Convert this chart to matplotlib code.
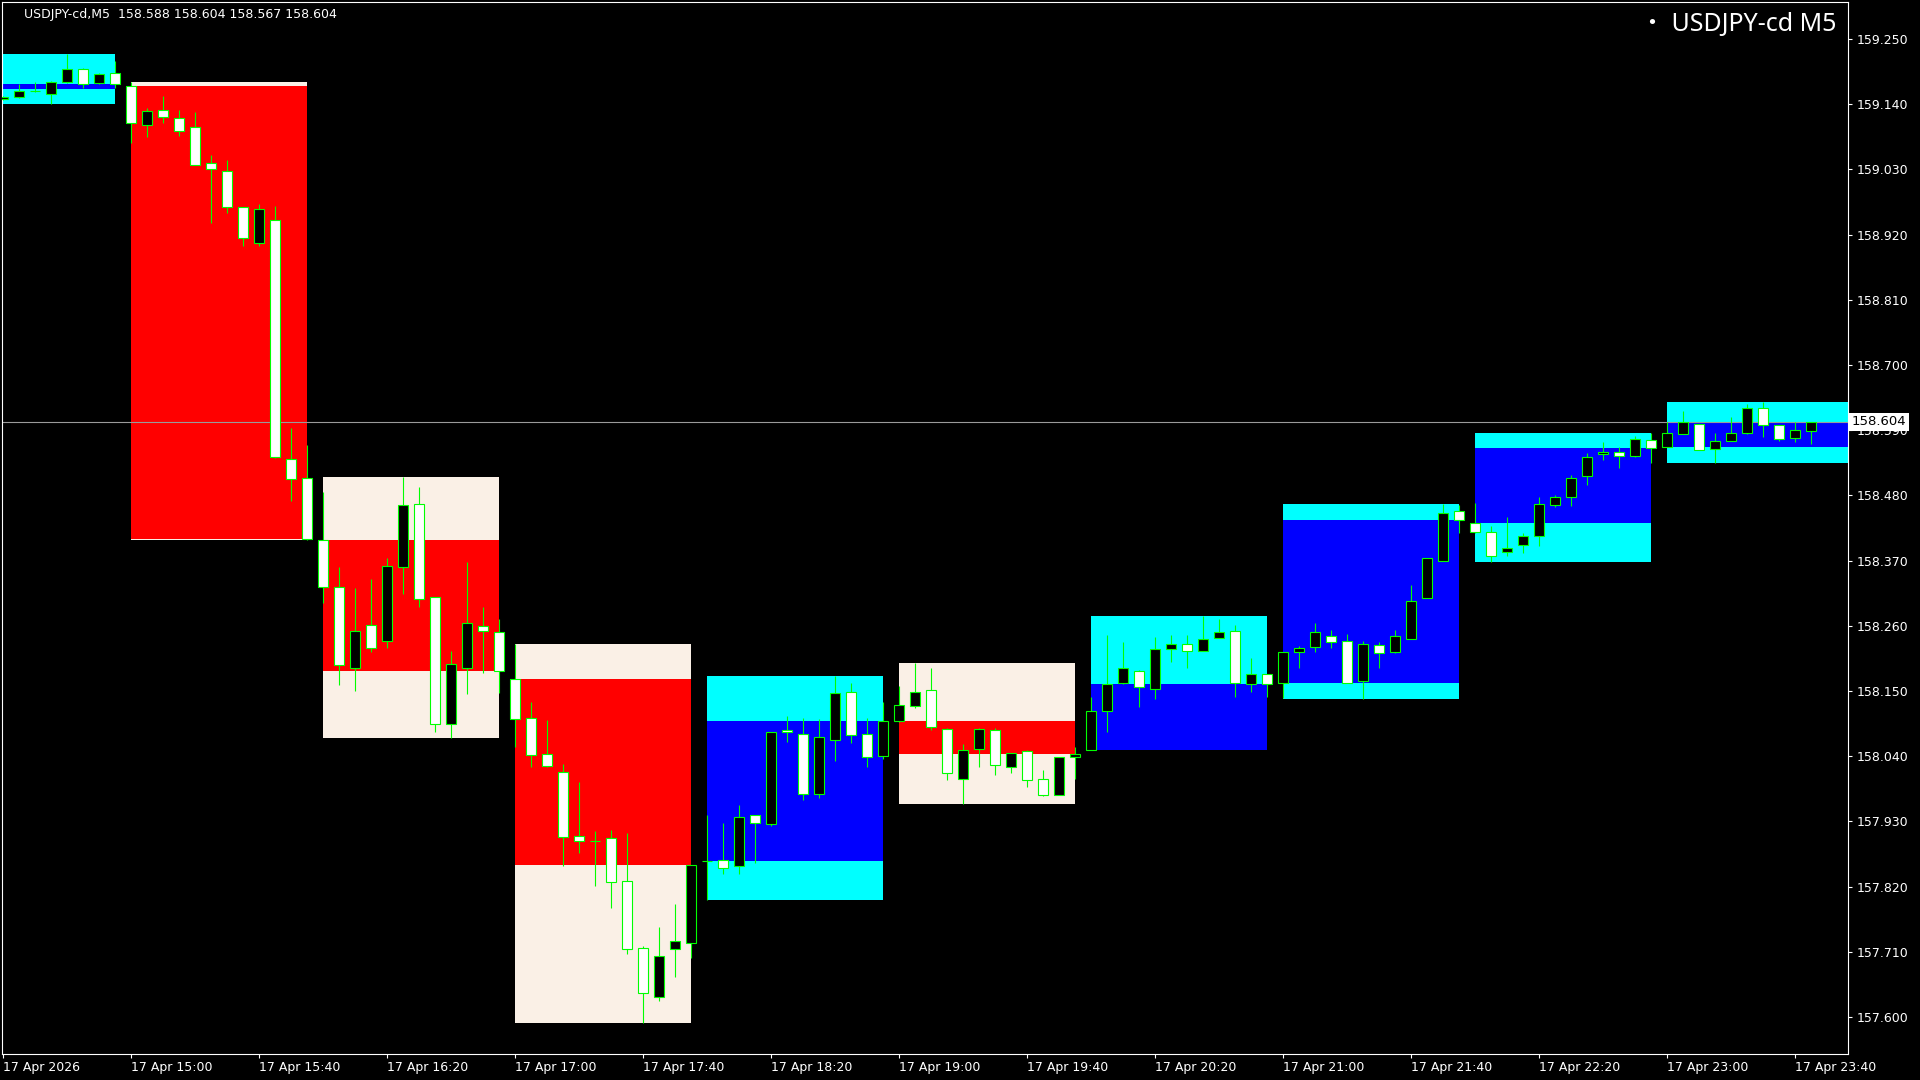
import numpy as np
import pandas as pd
import matplotlib
matplotlib.use('Agg')
import matplotlib.pyplot as plt
from matplotlib.patches import Rectangle

# USDJPY-cd M5, 17 Apr 2026, bars 14:20 .. 23:45 (one row per hour)
open_ = [
    159.149, 159.152, 159.163, 159.158, 159.177, 159.199, 159.175, 159.192,
    159.171, 159.105, 159.130, 159.116, 159.102, 159.040, 159.027, 158.967, 158.906, 158.944, 158.541, 158.509,
    158.404, 158.325, 158.188, 158.261, 158.234, 158.359, 158.465, 158.308, 158.095, 158.189, 158.259, 158.249,
    158.170, 158.104, 158.043, 158.013, 157.905, 157.897, 157.902, 157.829, 157.716, 157.633, 157.714, 157.725,
    157.863, 157.864, 157.854, 157.941, 157.925, 158.084, 158.077, 157.976, 158.068, 158.148, 158.077, 158.041,
    158.099, 158.125, 158.151, 158.086, 158.001, 158.052, 158.084, 158.022, 158.049, 158.001, 157.975, 158.039,
    158.050, 158.117, 158.163, 158.184, 158.154, 158.221, 158.229, 158.217, 158.239, 158.251, 158.161, 158.178,
    158.163, 158.215, 158.225, 158.242, 158.235, 158.166, 158.228, 158.215, 158.238, 158.307, 158.369, 158.453,
    158.433, 158.419, 158.384, 158.396, 158.411, 158.464, 158.477, 158.512, 158.549, 158.554, 158.547, 158.573,
    158.562, 158.583, 158.600, 158.558, 158.572, 158.586, 158.627, 158.598, 158.576, 158.588,
]
high = [
    159.154, 159.174, 159.177, 159.179, 159.225, 159.201, 159.193, 159.213,
    159.178, 159.133, 159.154, 159.130, 159.127, 159.054, 159.046, 158.967, 158.971, 158.968, 158.593, 158.565,
    158.485, 158.359, 158.323, 158.339, 158.374, 158.511, 158.494, 158.308, 158.217, 158.367, 158.291, 158.271,
    158.229, 158.131, 158.101, 158.026, 157.996, 157.914, 157.915, 157.910, 157.720, 157.752, 157.791, 157.856,
    157.941, 157.927, 157.958, 157.941, 158.081, 158.108, 158.104, 158.102, 158.176, 158.164, 158.104, 158.132,
    158.158, 158.198, 158.189, 158.088, 158.061, 158.088, 158.087, 158.045, 158.050, 158.017, 158.039, 158.056,
    158.139, 158.244, 158.232, 158.185, 158.241, 158.244, 158.244, 158.276, 158.271, 158.261, 158.205, 158.178,
    158.216, 158.226, 158.264, 158.253, 158.246, 158.234, 158.232, 158.253, 158.328, 158.374, 158.465, 158.464,
    158.467, 158.428, 158.443, 158.416, 158.478, 158.481, 158.514, 158.551, 158.570, 158.562, 158.580, 158.585,
    158.603, 158.623, 158.600, 158.585, 158.613, 158.634, 158.638, 158.598, 158.603, 158.604,
]
low = [
    159.147, 159.150, 159.161, 159.140, 159.176, 159.167, 159.174, 159.167,
    159.074, 159.085, 159.109, 159.087, 159.037, 158.940, 158.957, 158.900, 158.900, 158.543, 158.471, 158.405,
    158.298, 158.160, 158.150, 158.216, 158.223, 158.314, 158.292, 158.081, 158.070, 158.145, 158.181, 158.147,
    158.055, 158.021, 158.021, 157.855, 157.877, 157.821, 157.783, 157.706, 157.589, 157.627, 157.668, 157.699,
    157.797, 157.842, 157.842, 157.859, 157.923, 158.064, 157.966, 157.969, 158.031, 158.062, 158.021, 158.036,
    158.098, 158.122, 158.084, 158.000, 157.959, 158.022, 158.008, 158.011, 157.988, 157.973, 157.974, 158.001,
    158.050, 158.080, 158.162, 158.123, 158.136, 158.199, 158.188, 158.217, 158.239, 158.139, 158.149, 158.139,
    158.138, 158.189, 158.216, 158.223, 158.163, 158.136, 158.188, 158.214, 158.238, 158.307, 158.369, 158.416,
    158.417, 158.368, 158.378, 158.382, 158.395, 158.461, 158.462, 158.497, 158.540, 158.526, 158.545, 158.535,
    158.562, 158.583, 158.556, 158.534, 158.572, 158.584, 158.579, 158.572, 158.570, 158.567,
]
close = [
    159.152, 159.163, 159.163, 159.178, 159.199, 159.174, 159.191, 159.174,
    159.108, 159.129, 159.118, 159.095, 159.038, 159.031, 158.967, 158.915, 158.963, 158.544, 158.507, 158.406,
    158.325, 158.193, 158.251, 158.222, 158.360, 158.463, 158.305, 158.094, 158.195, 158.264, 158.251, 158.183,
    158.102, 158.042, 158.024, 157.904, 157.897, 157.897, 157.828, 157.714, 157.640, 157.702, 157.728, 157.856,
    157.863, 157.852, 157.937, 157.927, 158.080, 158.080, 157.976, 158.072, 158.147, 158.075, 158.038, 158.099,
    158.126, 158.149, 158.089, 158.011, 158.050, 158.086, 158.025, 158.045, 157.999, 157.975, 158.038, 158.043,
    158.116, 158.162, 158.189, 158.156, 158.220, 158.230, 158.217, 158.238, 158.250, 158.163, 158.179, 158.161,
    158.215, 158.222, 158.249, 158.233, 158.164, 158.229, 158.214, 158.242, 158.302, 158.374, 158.451, 158.438,
    158.418, 158.378, 158.392, 158.412, 158.465, 158.477, 158.510, 158.544, 158.553, 158.547, 158.575, 158.560,
    158.585, 158.604, 158.556, 158.572, 158.585, 158.628, 158.599, 158.575, 158.590, 158.604,
]
# the 14:00 hour starts before the first visible bar, its open
first_hour_open = 159.166

price_levels = [159.250, 159.140, 159.030, 158.920, 158.810, 158.700, 158.590, 158.480,
                158.370, 158.260, 158.150, 158.040, 157.930, 157.820, 157.710, 157.600]

times = pd.date_range('2026-04-17 14:20', periods=len(open_), freq='5min')
df = pd.DataFrame({'open': open_, 'high': high, 'low': low, 'close': close}, index=times)
df['i'] = np.arange(len(df))
bar = pd.Timedelta('5min')

fig = plt.figure(figsize=(19.2, 10.8), dpi=100, facecolor='black')
ax = fig.add_axes([2/1920, 26/1080, 1846/1920, 1052/1080])
ax.set_facecolor('black')
ax.set_xlim(-0.0625, 115.3125)
ax.set_ylim(157.5375, 159.3124)

# hourly candles drawn as boxes behind the M5 bars
groups = list(df.groupby(df.index.floor('h')))
for n, (hour, g) in enumerate(groups):
    o = first_hour_open if n == 0 else g['open'].iloc[0]
    c = g['close'].iloc[-1]
    hi = g['high'].max()
    lo = g['low'].min()
    start = (hour - times[0]) / bar
    width = 12 if n == len(groups) - 1 else 11
    if c >= o:
        outer, inner = '#00FFFF', '#0000FF'
    else:
        outer, inner = '#FAF0E6', '#FF0000'
    ax.add_patch(Rectangle((start, lo), width, hi - lo, facecolor=outer, edgecolor='none', zorder=1))
    ax.add_patch(Rectangle((start, min(o, c)), width, abs(c - o), facecolor=inner, edgecolor='none', zorder=1.1))

last = df.iloc[-1]
ax.axhline(last['close'], color='#9a9a9a', lw=0.8, zorder=2)

up = df['close'] >= df['open']
ax.vlines(df['i'], df['low'], df['high'], color='#00FF00', lw=0.8, zorder=3)
ax.bar(df['i'], (df['close'] - df['open']).abs(), bottom=df[['open', 'close']].min(axis=1),
       width=0.62, color=np.where(up, 'black', 'white'), edgecolor='#00FF00', linewidth=0.8, zorder=4)

# axes look
for s in ax.spines.values():
    s.set_color('white')
    s.set_linewidth(0.8)

ax.yaxis.tick_right()
ax.set_yticks(price_levels)
ax.set_yticklabels([f'{v:.3f}' for v in price_levels])
ax.tick_params(axis='y', colors='white', direction='out', length=3, width=0.8, pad=3, labelsize=9)

xt = list(range(0, len(df), 8))
xl = ['17 Apr 2026'] + [times[k].strftime('17 Apr %H:%M') for k in xt[1:]]
ax.set_xticks(xt)
ax.set_xticklabels(xl)
ax.tick_params(axis='x', colors='white', direction='out', length=3, width=0.8, pad=2, labelsize=9)
for lab in ax.get_xticklabels():
    lab.set_ha('left')

# current price tag on the axis
ax.text(1 + 4/1846, last['close'], f"{last['close']:.3f}", transform=ax.get_yaxis_transform(),
        ha='left', va='center', color='black', fontsize=9.5,
        bbox=dict(facecolor='white', edgecolor='none', pad=1.8), clip_on=False, zorder=10)

fig.text(24/1920, 1 - 14.7/1080,
         f"USDJPY-cd,M5  {last['open']:.3f} {last['high']:.3f} {last['low']:.3f} {last['close']:.3f}",
         color='white', fontsize=9, ha='left', va='center')
fig.text(1837/1920, 1 - 24/1080, '・ USDJPY-cd M5', color='white', fontsize=18,
         ha='right', va='center', family=['Noto Sans', 'Noto Sans CJK JP'])

fig.savefig('out.png', dpi=100, facecolor='black')
